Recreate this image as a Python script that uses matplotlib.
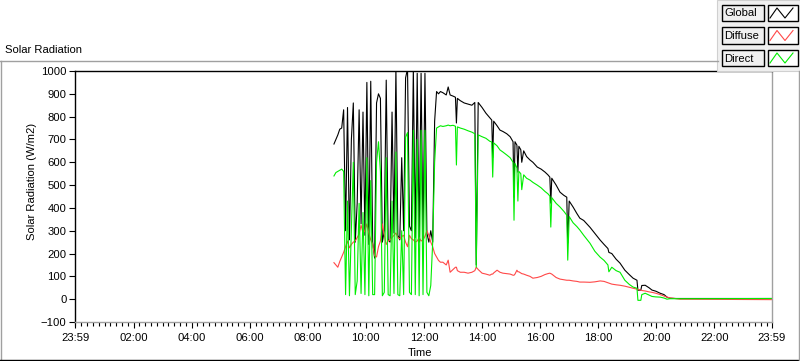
import matplotlib.pyplot as plt
from matplotlib.ticker import FixedLocator, MultipleLocator
from matplotlib.lines import Line2D
from matplotlib.patches import Rectangle

plt.rcParams["font.family"] = ["Liberation Sans", "DejaVu Sans"]

# sample times (HH:MM)
time_labels = [
    "08:54", "08:58", "09:02", "09:06", "09:10", "09:14", "09:18", "09:22", "09:26", "09:30",
    "09:34", "09:38", "09:42", "09:46", "09:50", "09:54", "09:58", "10:02", "10:06", "10:10",
    "10:14", "10:18", "10:22", "10:26", "10:30", "10:34", "10:38", "10:42", "10:46", "10:50",
    "10:54", "10:58", "11:02", "11:06", "11:10", "11:14", "11:18", "11:22", "11:26", "11:30",
    "11:34", "11:38", "11:42", "11:46", "11:50", "11:54", "11:58", "12:02", "12:06", "12:10",
    "12:14", "12:18", "12:22", "12:26", "12:30", "12:34",
    "12:39", "12:46", "12:50", "12:54", "13:00", "13:05", "13:07", "13:09", "13:15", "13:23",
    "13:31", "13:39", "13:45", "13:48", "13:52", "14:00", "14:08", "14:16", "14:20", "14:22",
    "14:24", "14:31", "14:37", "14:43", "14:51", "14:58", "15:04", "15:06", "15:08", "15:12",
    "15:14", "15:16", "15:20", "15:22", "15:26", "15:32", "15:39", "15:45", "15:54", "16:02",
    "16:10", "16:16", "16:20", "16:22", "16:24", "16:33", "16:41", "16:49", "16:55", "16:57",
    "17:00", "17:08", "17:16", "17:22", "17:30", "17:43", "17:53", "18:04", "18:12", "18:20",
    "18:22", "18:28", "18:37", "18:45", "18:55", "19:04", "19:12", "19:20", "19:22", "19:28",
    "19:30", "19:37", "19:45", "19:51", "19:59", "20:08", "20:16", "20:22", "20:28", "20:41",
    "20:49", "23:59",
]

global_wm2 = [
    680, 700, 720, 745, 750, 830, 300, 840, 260, 700,
    860, 250, 420, 830, 330, 820, 280, 950, 240, 955,
    250, 180, 860, 900, 880, 250, 300, 960, 260, 250,
    820, 290, 1010, 280, 260, 620, 300, 970, 1010, 320,
    300, 1010, 270, 990, 250, 990, 260, 990, 290, 250,
    300, 250, 780, 910, 900, 910,
    905, 895, 930, 895, 890, 885, 772, 880, 870, 860,
    855, 850, 862, 150, 862, 840, 815, 795, 785, 620,
    780, 760, 741, 735, 725, 712, 690, 447, 690, 675,
    557, 670, 655, 600, 650, 625, 610, 600, 579, 570,
    557, 545, 535, 421, 530, 500, 469, 455, 447, 246,
    430, 404, 375, 355, 345, 315, 288, 259, 240, 222,
    205, 200, 175, 158, 127, 108, 92, 83, 39, 40,
    60, 61, 50, 40, 35, 26, 20, 9, 4, 3,
    3, 3,
]

diffuse_wm2 = [
    160, 150, 140, 165, 185, 205, 230, 255, 225, 240,
    250, 255, 270, 285, 325, 290, 300, 330, 290, 260,
    240, 190, 185, 230, 255, 330, 280, 240, 255, 260,
    270, 280, 290, 270, 265, 275, 280, 250, 230, 280,
    265, 260, 250, 255, 270, 255, 260, 275, 300, 280,
    250, 230, 200, 185, 170, 162,
    162, 150, 171, 118, 130, 140, 140, 125, 118, 118,
    114, 118, 125, 140, 130, 114, 110, 105, 110, 110,
    115, 127, 118, 114, 112, 110, 105, 105, 110, 127,
    120, 120, 115, 112, 110, 105, 100, 92, 95, 100,
    108, 112, 114, 112, 110, 95, 88, 85, 83, 83,
    83, 80, 78, 75, 75, 74, 76, 80, 78, 72,
    70, 66, 63, 61, 57, 52, 48, 44, 42, 40,
    38, 36, 32, 30, 26, 20, 14, 9, 6, 2,
    0, -2,
]

direct_wm2 = [
    540, 555, 560, 565, 570, 560, 20, 430, 15, 300,
    600, 20, 80, 420, 25, 380, 20, 620, 15, 520,
    20, 20, 600, 690, 560, 15, 30, 620, 20, 15,
    430, 25, 645, 20, 15, 300, 20, 710, 730, 30,
    20, 740, 20, 700, 15, 740, 20, 740, 30, 15,
    60, 250, 600, 750, 755, 760,
    757, 760, 763, 760, 762, 758, 588, 755, 750, 745,
    738, 732, 725, 140, 720, 712, 705, 692, 689, 535,
    685, 672, 654, 645, 632, 620, 600, 346, 595, 575,
    430, 560, 550, 480, 545, 530, 522, 512, 500, 488,
    472, 462, 452, 316, 445, 420, 404, 385, 368, 171,
    362, 335, 318, 303, 280, 245, 210, 184, 170, 150,
    120, 140, 125, 118, 83, 65, 53, 48, -5, -5,
    20, 26, 18, 12, 10, 9, 5, 0, 2, 2,
    2, 3,
]

tick_minutes = [-1, 120, 240, 360, 480, 600, 720, 840, 960, 1080, 1200, 1320, 1439]
tick_labels = ["23:59", "02:00", "04:00", "06:00", "08:00", "10:00", "12:00",
               "14:00", "16:00", "18:00", "20:00", "22:00", "23:59"]
series_names = ["Global", "Diffuse", "Direct"]
series_colors = ["#000000", "#ff4848", "#00ee00"]

W, H = 800, 361


def fx(px):
    return px / W


def fy(py):
    return 1 - py / H


def to_min(s):
    h, m = s.split(":")
    return int(h) * 60 + int(m)


t = [to_min(s) for s in time_labels]

fig = plt.figure(figsize=(W / 100, H / 100), dpi=100)
fig.patch.set_facecolor("white")
ax = fig.add_axes([fx(75), fy(322), (772 - 75) / W, (322 - 71) / H])

for vals, c in zip([global_wm2, diffuse_wm2, direct_wm2], series_colors):
    ax.plot(t, vals, color=c, lw=0.8)

ax.set_xlim(-1, 1439)
ax.set_ylim(-100, 1000)
ax.xaxis.set_major_locator(FixedLocator(tick_minutes))
ax.set_xticklabels(tick_labels)
ax.xaxis.set_minor_locator(MultipleLocator(12))
ax.yaxis.set_major_locator(MultipleLocator(100))
ax.tick_params(axis="both", which="major", direction="out", length=4, width=0.8,
               labelsize=8.1, pad=2)
ax.tick_params(axis="x", which="major", pad=4)
ax.tick_params(axis="x", which="minor", direction="out", length=3, width=0.8)
for side in ["left", "top"]:
    ax.spines[side].set_color("black")
    ax.spines[side].set_linewidth(1)
for side in ["right", "bottom"]:
    ax.spines[side].set_color("#a0a0a0")
    ax.spines[side].set_linewidth(1)

#outer frame
fig.add_artist(Line2D([fx(0), fx(718)], [fy(61), fy(61)], color="#a0a0a0", lw=1))
fig.add_artist(Line2D([fx(0.8), fx(0.8)], [fy(61), fy(361)], color="#a0a0a0", lw=1))
fig.add_artist(Line2D([fx(0), fx(800)], [fy(360.3), fy(360.3)], color="black", lw=1))
fig.add_artist(Line2D([fx(799.3), fx(799.3)], [fy(71), fy(361)], color="#a0a0a0", lw=1))

fig.text(fx(5), fy(50), "Solar Radiation", ha="left", va="center", fontsize=8.1)
fig.text(fx(32), fy(181), "Solar Radiation (W/m2)", rotation=90, ha="center",
         va="center", fontsize=8.1)
fig.text(fx(420), fy(353), "Time", ha="center", va="center", fontsize=8.1)

#legend panel
fig.add_artist(Rectangle((fx(717), fy(71)), 83 / W, 71 / H, transform=fig.transFigure,
                         facecolor="#f0f0f0", edgecolor="#d0d0d0", lw=0.8))
zig = [(2, 13), (9, 3), (17, 13), (25, 3)]
for i, (name, c) in enumerate(zip(series_names, series_colors)):
    y0 = 5 + i * 22.5
    fig.add_artist(Rectangle((fx(722), fy(y0 + 16)), 42 / W, 16 / H,
                             transform=fig.transFigure, facecolor="#f0f0f0",
                             edgecolor="black", lw=1))
    fig.text(fx(724), fy(y0 + 8.5), name, ha="left", va="center", fontsize=8.1)
    fig.add_artist(Rectangle((fx(768), fy(y0 + 16)), 30 / W, 16 / H,
                             transform=fig.transFigure, facecolor="white",
                             edgecolor="black", lw=1))
    fig.add_artist(Line2D([fx(768 + dx) for dx, dy in zig],
                          [fy(y0 + dy) for dx, dy in zig], color=c, lw=0.8))

fig.savefig("out.png", dpi=100)
